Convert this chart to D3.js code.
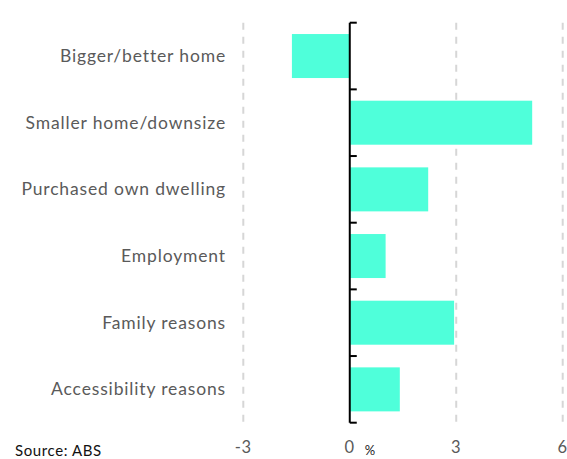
<!DOCTYPE html>
<html>
<head>
<meta charset="utf-8">
<script src="https://cdn.jsdelivr.net/npm/d3@7"></script>
<style>
  html, body { margin: 0; padding: 0; background: #fff; }
  svg { display: block; }
  text { font-family: Lato, "Open Sans", sans-serif; }
</style>
</head>
<body>
<svg id="chart" width="567" height="459"></svg>
<script>
const categories = ["Bigger/better home", "Smaller home/downsize", "Purchased own dwelling", "Employment", "Family reasons", "Accessibility reasons"];
const values = [-1.63, 5.14, 2.21, 1.01, 2.94, 1.41];
const xTicks = [-3, 0, 3, 6];
const xDomain = [-3, 6];
const unitLabel = "%";
const sourceText = "Source: ABS";

const svg = d3.select("#chart");
const x = d3.scaleLinear().domain(xDomain).range([243.3, 562.7]);
const y = d3.scaleBand().domain(categories).range([22.7, 422.7]).paddingInner(0.34).paddingOuter(0.17);

// grid
svg.append("g").selectAll("line").data(xTicks.filter(d => d !== 0)).join("line")
  .attr("x1", d => x(d)).attr("x2", d => x(d))
  .attr("y1", 22.7).attr("y2", 422.7)
  .attr("stroke", "#d6d6d6").attr("stroke-width", 2)
  .attr("stroke-dasharray", "7,7");

// bars
svg.append("g").selectAll("rect").data(categories).join("rect")
  .attr("x", (d, i) => Math.min(x(0), x(values[i])))
  .attr("width", (d, i) => Math.abs(x(values[i]) - x(0)))
  .attr("y", d => y(d))
  .attr("height", y.bandwidth())
  .attr("fill", "#4fffda");

// y axis at zero with ticks at band boundaries pointing right
const step = y.step();
const boundaries = d3.range(categories.length + 1).map(i => 22.7 + i * step);
const ax = svg.append("g");
ax.append("line").attr("x1", x(0)).attr("x2", x(0)).attr("y1", 22.7).attr("y2", 422.7)
  .attr("stroke", "#000").attr("stroke-width", 2);
ax.selectAll(".tk").data(boundaries).join("line").attr("class", "tk")
  .attr("x1", x(0)).attr("x2", x(0) + 7)
  .attr("y1", d => d).attr("y2", d => d)
  .attr("stroke", "#000").attr("stroke-width", 2);

// category labels
svg.append("g").selectAll("text").data(categories).join("text")
  .attr("x", 226).attr("y", d => y(d) + y.bandwidth() / 2)
  .attr("dy", "0.35em")
  .attr("text-anchor", "end")
  .attr("font-size", 17.5)
  .attr("letter-spacing", 0.85)
  .attr("fill", "#5a5a5a")
  .text(d => d);

// x tick labels
svg.append("g").selectAll("text").data(xTicks).join("text")
  .attr("x", d => x(d)).attr("y", 453)
  .attr("text-anchor", "middle")
  .attr("font-size", 16.5)
  .attr("letter-spacing", 0.8)
  .attr("fill", "#5a5a5a")
  .text(d => d < 0 ? "-" + Math.abs(d) : d);

svg.append("text").attr("x", 370).attr("y", 455).attr("text-anchor", "middle")
  .attr("font-size", 13).attr("fill", "#222").text(unitLabel);

svg.append("text").attr("x", 15).attr("y", 456)
  .attr("font-size", 15).attr("letter-spacing", 0.6).attr("fill", "#111").text(sourceText);
</script>
</body>
</html>
